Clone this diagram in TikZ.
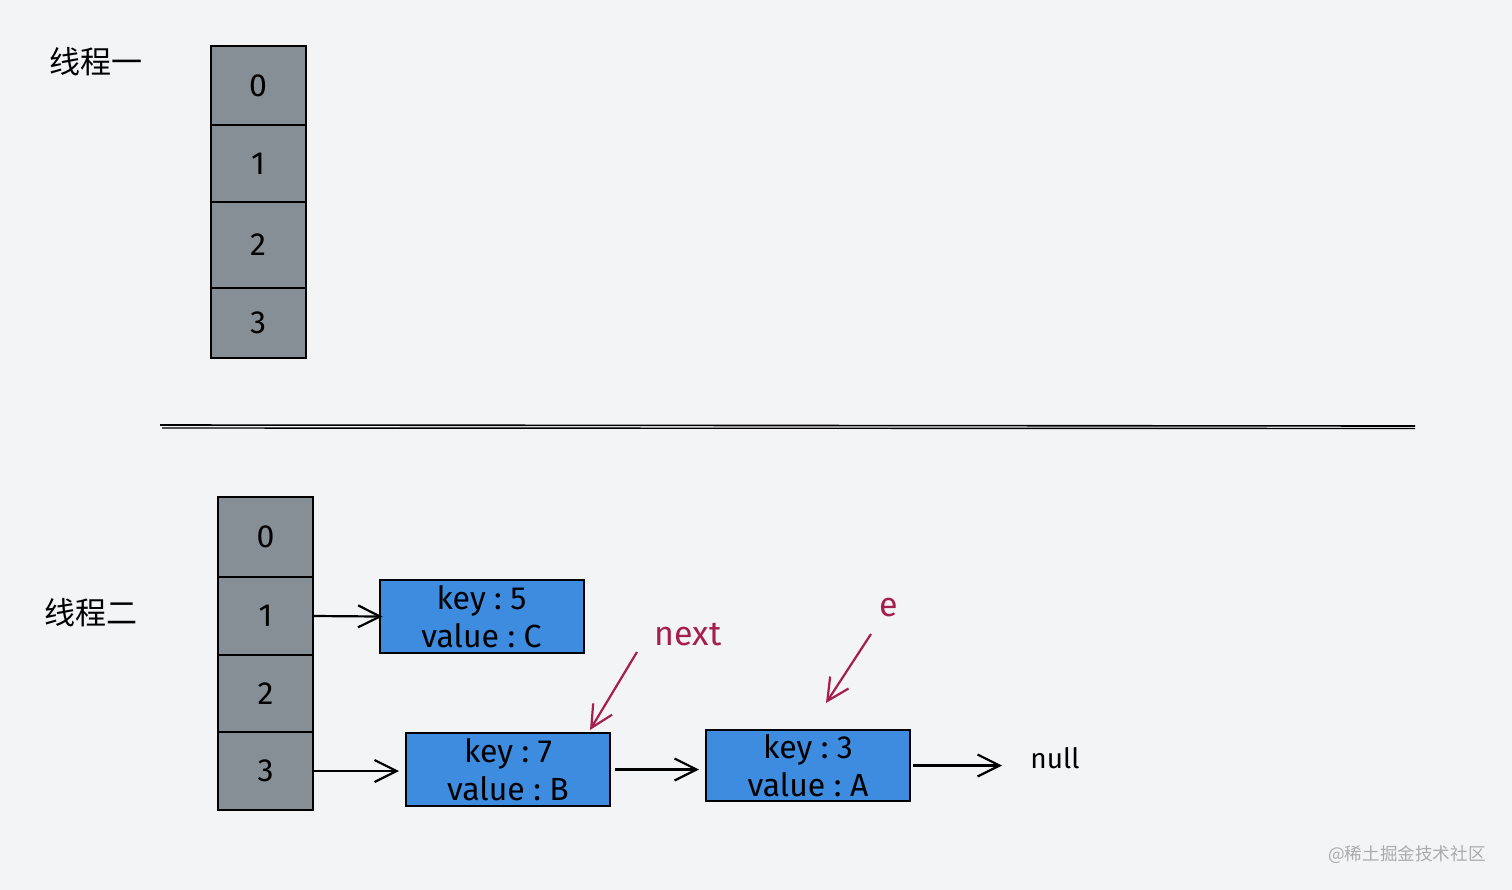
\documentclass[tikz,border=0pt]{standalone}
\usepackage{fontspec}
\setmainfont{Fira Sans}
\newfontfamily\cjk{Noto Sans CJK SC}
\usetikzlibrary{arrows.meta,positioning}
\definecolor{bgpaper}{HTML}{F3F4F6}
\definecolor{slotgray}{HTML}{868E96}
\definecolor{entryblue}{HTML}{3D8CE0}
\definecolor{ptrred}{HTML}{A61E4D}
\definecolor{markgray}{HTML}{ABABAB}
\tikzset{
  slot/.style={draw=black,line width=1pt,fill=slotgray,minimum width=47.5pt,
    inner sep=0pt,font=\fontsize{16}{18}\selectfont},
  entry/.style={draw=black,line width=1pt,fill=entryblue,minimum width=102pt,
    minimum height=36.5pt,inner sep=0pt,align=center,
    font=\fontsize{16}{19}\selectfont},
  link/.style={line width=1.1pt,-{Straight Barb[length=11pt,width=11pt,line width=1.1pt]}},
  ptr/.style={link,draw=ptrred},
  thread/.style={font=\cjk\fontsize{15.5}{17}\selectfont}
}
\begin{document}
\begin{tikzpicture}[x=0.5pt,y=-0.5pt]
  \fill[bgpaper] (0,0) rectangle (1512,890);
  \useasboundingbox (0,0) rectangle (1512,890);
  % thread one
  \node[thread] (th1) at (96,62) {线程一};
  \foreach \i/\yc/\h in {0/85.5/79,1/163.5/77,2/245/86,3/323/70}
    \node[slot,minimum height=\h*0.5pt] (ta\i) at (258,\yc) {\i};
  % separator
  \draw[line width=0.8pt] (160,425) -- (1415,426);
  \draw[line width=0.7pt] (162,428) -- (1415,428.5);
  % thread two
  \node[thread] (th2) at (91,613) {线程二};
  \foreach \i/\yc/\h in {0/537/80,1/616/78,2/693.5/77,3/771/78}
    \node[slot,minimum height=\h*0.5pt] (tb\i) at (265.5,\yc) {\i};
  \node[entry] (eC) at (481.5,616.5) {key~:~5\\value~:~C};
  \node[entry] (eB) at (508,769.5) {key~:~7\\value~:~B};
  \node[entry,minimum height=35.5pt] (eA) at (808,765.5) {key~:~3\\value~:~A};
  \node[font=\fontsize{14}{16}\selectfont,inner sep=0pt,anchor=west] (null) at (1030,758) {null};
  \draw[link,shorten >=-2pt] (tb1.east) -- (eC.west);
  \draw[link,shorten >=3pt] (tb3.east) -- (tb3.east -| eB.west);
  \draw[link,shorten <=2pt,shorten >=3pt] (eB.east) -- (eB.east -| eA.west);
  \draw[link,shorten <=1pt,shorten >=14pt] (eA.east) -- (eA.east -| null.west);
  % pointers
  \node[text=ptrred,font=\fontsize{17}{19}\selectfont] (nextlbl) at (688,635) {next};
  \coordinate (nextTail) at (637,652);
  \coordinate (nextTip) at (590,730);
  \draw[ptr] (nextTail) -- (nextTip);
  \node[text=ptrred,font=\fontsize{17}{19}\selectfont] (elbl) at (889,608) {e};
  \coordinate (eTail) at (871,634);
  \coordinate (eTip) at (826,703);
  \draw[ptr] (eTail) -- (eTip);
  \node[text=markgray,font=\cjk\fontsize{8.8}{10}\selectfont] (mark) at (1407,855) {@稀土掘金技术社区};
\end{tikzpicture}
\end{document}
